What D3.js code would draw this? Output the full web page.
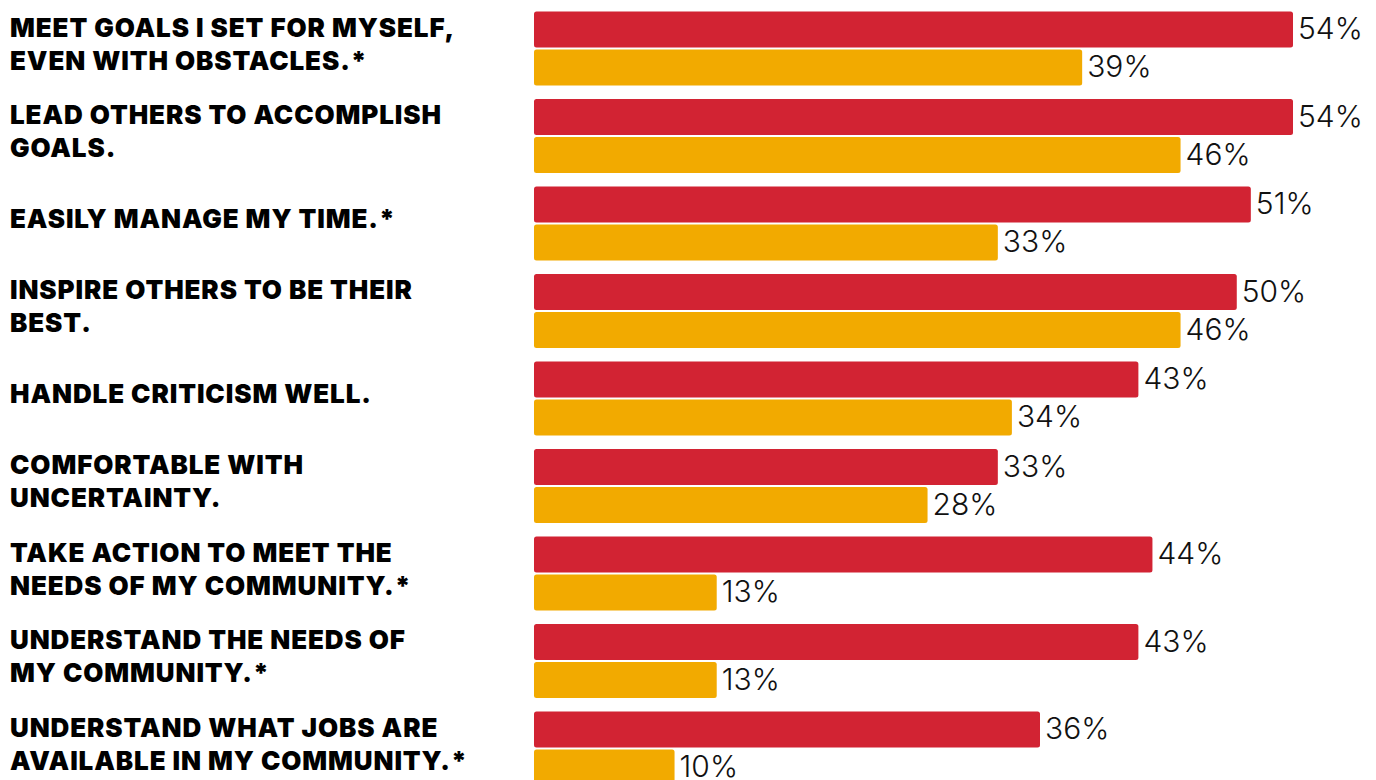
<!DOCTYPE html>
<html>
<head>
<meta charset="utf-8">
<script src="https://cdn.jsdelivr.net/npm/d3@7"></script>
<style>
  html, body { margin: 0; padding: 0; background: #fff; }
  svg { display: block; }
</style>
</head>
<body>
<div id="chart"></div>
<script>
const categories = [
  ["MEET GOALS I SET FOR MYSELF,", "EVEN WITH OBSTACLES.*"],
  ["LEAD OTHERS TO ACCOMPLISH", "GOALS."],
  ["EASILY MANAGE MY TIME.*"],
  ["INSPIRE OTHERS TO BE THEIR", "BEST."],
  ["HANDLE CRITICISM WELL."],
  ["COMFORTABLE WITH", "UNCERTAINTY."],
  ["TAKE ACTION TO MEET THE", "NEEDS OF MY COMMUNITY.*"],
  ["UNDERSTAND THE NEEDS OF", "MY COMMUNITY.*"],
  ["UNDERSTAND WHAT JOBS ARE", "AVAILABLE IN MY COMMUNITY.*"]
];
const redValues    = [54, 54, 51, 50, 43, 33, 44, 43, 36];
const yellowValues = [39, 46, 33, 46, 34, 28, 13, 13, 10];
const seriesKeys = ["red", "yellow"];
const seriesColors = ["#d22333", "#f2aa00"];

const width = 1376;
const height = 780;

const svg = d3.select("#chart").append("svg")
    .attr("width", width)
    .attr("height", height);

const ids = categories.map((d, i) => i);

// one band per statement, 87.5px apart, bars 36px tall with a 2px gap
const y = d3.scaleBand()
    .domain(ids)
    .range([4.75, 4.75 + 87.5 * ids.length])
    .paddingInner(13.5 / 87.5)
    .paddingOuter(13.5 / 87.5 / 2);

const ySub = d3.scaleBand()
    .domain(seriesKeys)
    .range([0, y.bandwidth()])
    .paddingInner(2 / 38);

const x = d3.scaleLinear()
    .domain([0, 54])
    .range([534, 1293]);

const color = d3.scaleOrdinal().domain(seriesKeys).range(seriesColors);

const rows = ids.map(i => ({
  i: i,
  lines: categories[i],
  bars: [
    {key: "red", value: redValues[i]},
    {key: "yellow", value: yellowValues[i]}
  ]
}));

const group = svg.selectAll(".group")
    .data(rows)
    .enter().append("g")
    .attr("class", "group")
    .attr("transform", d => `translate(0, ${y(d.i)})`);

// category labels, bold caps on the left
const lineH = 33;
group.append("text")
    .attr("class", "cat")
    .attr("font-family", "Inter, 'Noto Sans', sans-serif")
    .attr("font-weight", 900)
    .attr("font-size", 26)
    .attr("letter-spacing", 0.9)
    .attr("fill", "#000")
    .each(function(d) {
      const n = d.lines.length;
      const capH = 19;
      const blockH = capH + (n - 1) * lineH;
      const top = y.bandwidth() / 2 - 5 - blockH / 2;
      d3.select(this).selectAll("tspan")
        .data(d.lines)
        .enter().append("tspan")
        .attr("x", 10)
        .attr("y", (t, k) => top + capH + k * lineH)
        .text(t => t);
    });

// bars
group.selectAll("rect")
    .data(d => d.bars)
    .enter().append("rect")
    .attr("x", x(0))
    .attr("y", d => ySub(d.key))
    .attr("width", d => x(d.value) - x(0))
    .attr("height", ySub.bandwidth())
    .attr("rx", 2.5)
    .attr("fill", d => color(d.key));

// value labels
group.selectAll(".val")
    .data(d => d.bars)
    .enter().append("text")
    .attr("class", "val")
    .attr("x", d => x(d.value) + 5)
    .attr("y", d => ySub(d.key) + ySub.bandwidth() / 2)
    .attr("dy", "0.32em")
    .attr("font-family", "Inter, 'Noto Sans', sans-serif")
    .attr("font-weight", 300)
    .attr("font-size", 30)
    .attr("fill", "#111")
    .text(d => d.value + "%");
</script>
</body>
</html>
